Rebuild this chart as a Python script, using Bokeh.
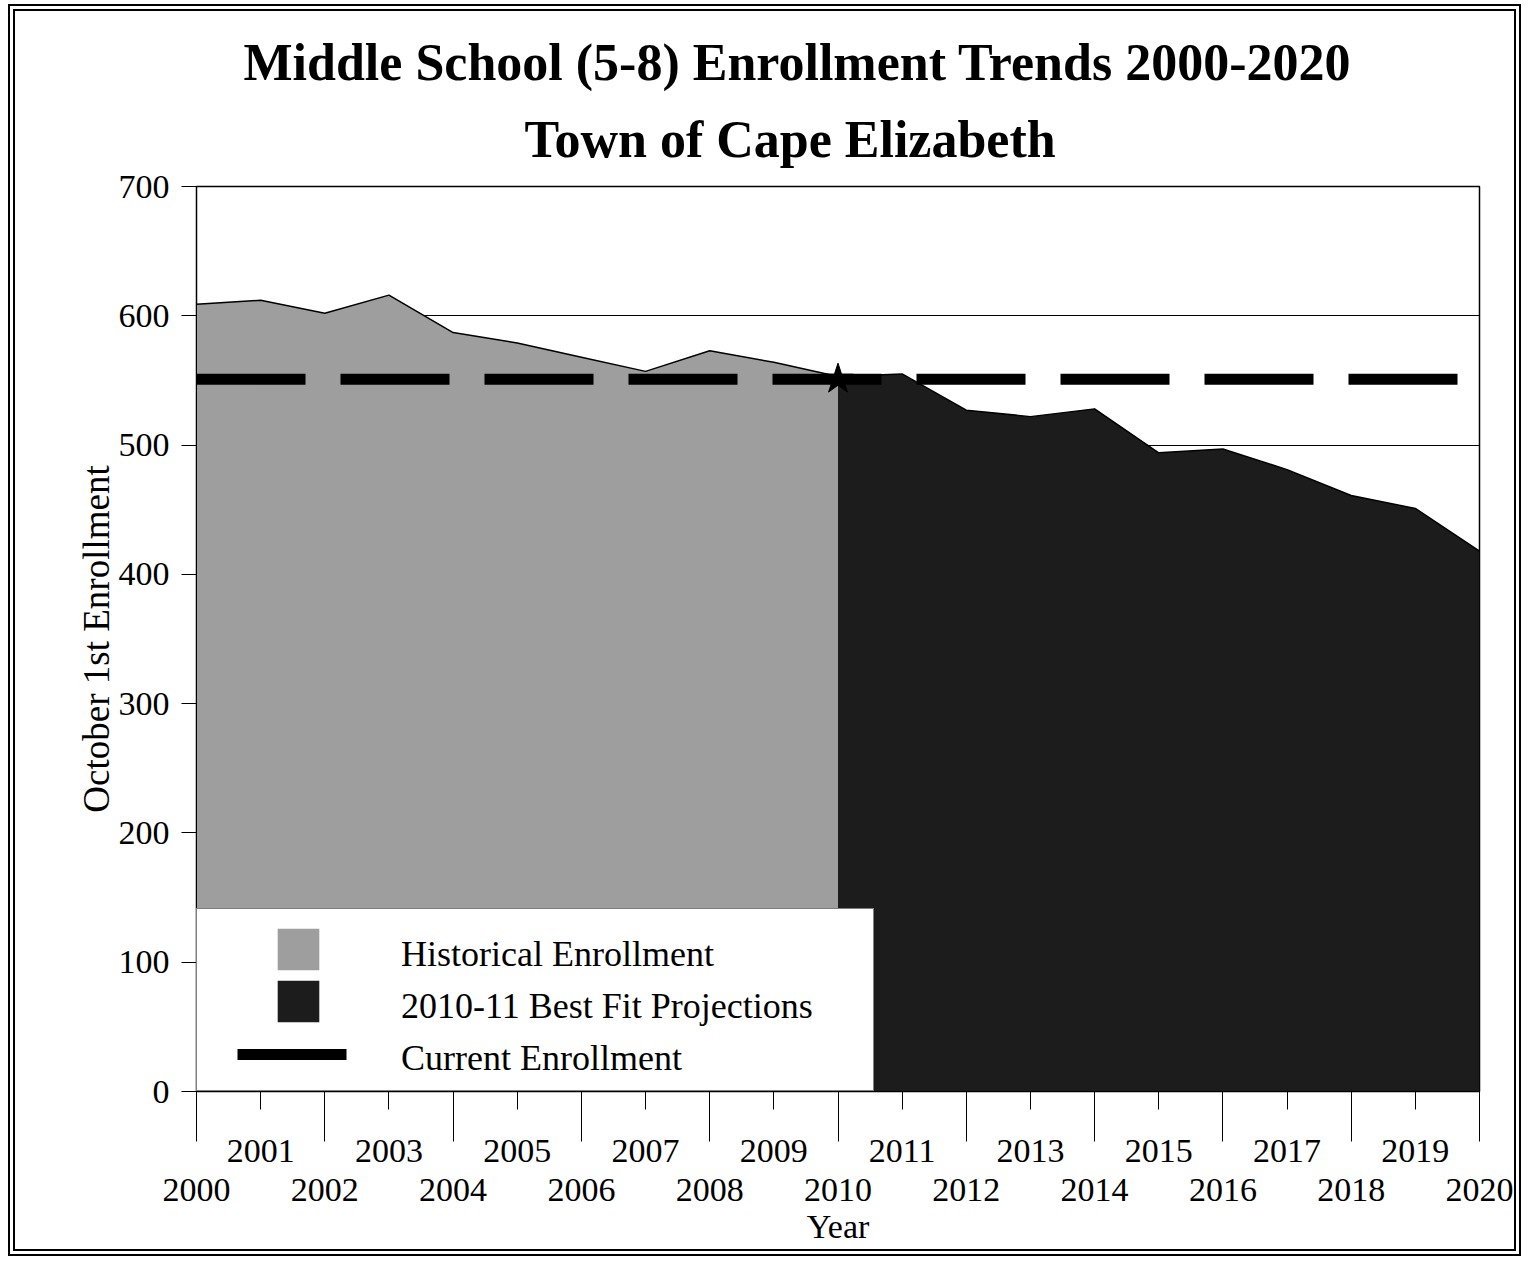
from bokeh.plotting import figure
from bokeh.models import Range1d, LinearAxis, FixedTicker, Legend, LegendItem, Title
from bokeh.embed import file_html
from bokeh.resources import INLINE

# ---------------- data ----------------
hist_years = [2000, 2001, 2002, 2003, 2004, 2005, 2006, 2007, 2008, 2009, 2010]
hist_values = [609, 612, 602, 616, 587, 579, 568, 557, 573, 564, 553]
proj_years = [2010, 2011, 2012, 2013, 2014, 2015, 2016, 2017, 2018, 2019, 2020]
proj_values = [553, 555, 527, 522, 528, 494, 497, 481, 461, 451, 418]
current_year = 2010
current_enrollment = 551
y_ticks = [0, 100, 200, 300, 400, 500, 600, 700]
odd_years = [2001, 2003, 2005, 2007, 2009, 2011, 2013, 2015, 2017, 2019]
even_years = [2000, 2002, 2004, 2006, 2008, 2010, 2012, 2014, 2016, 2018, 2020]
title_main = "Middle School (5-8) Enrollment Trends 2000-2020"
title_sub = "Town of Cape Elizabeth"
legend_labels = ["Historical Enrollment", "2010-11 Best Fit Projections", "Current Enrollment"]

SERIF = "Liberation Serif"
FS = "34px"
HIST_COLOR = "#9e9e9e"
PROJ_COLOR = "#1c1c1c"

p = figure(width=1513, height=1252,
           x_range=Range1d(even_years[0], even_years[-1]),
           y_range=Range1d(y_ticks[0], y_ticks[-1]),
           output_backend="svg", toolbar_location=None, title=None,
           min_border_left=181, min_border_right=49,
           min_border_top=175, min_border_bottom=172)
p.styles = {"margin": "4px 0px 0px 8px", "border": "7px double black"}
p.background_fill_color = "white"
p.border_fill_color = "white"
p.outline_line_color = "black"
p.outline_line_width = 1.5

# grid
p.xgrid.grid_line_color = None
p.ygrid.ticker = FixedTicker(ticks=y_ticks)
p.ygrid.grid_line_color = "black"
p.ygrid.grid_line_width = 1.2

# areas
r_hist = p.varea(x=hist_years, y1=[0] * len(hist_years), y2=hist_values,
                 fill_color=HIST_COLOR, fill_alpha=1)
p.line(hist_years, hist_values, line_color="black", line_width=1.5)
r_proj = p.varea(x=proj_years, y1=[0] * len(proj_years), y2=proj_values,
                 fill_color=PROJ_COLOR, fill_alpha=1)
p.line(proj_years, proj_values, line_color="black", line_width=1.5)

# current enrollment dashed line + star
r_cur = p.line(x=[hist_years[0], proj_years[-1]], y=[current_enrollment, current_enrollment],
               line_color="black", line_width=11, line_dash="109 35", line_cap="butt")
p.scatter(x=[current_year], y=[current_enrollment], marker="star", size=32,
          fill_color="black", line_color="black")

# y axis
ya = p.yaxis[0]
ya.ticker = FixedTicker(ticks=y_ticks)
ya.major_tick_out = 15
ya.major_tick_in = 0
ya.minor_tick_line_color = None
ya.major_label_standoff = 12
ya.major_label_text_font = SERIF
ya.major_label_text_font_size = FS
ya.major_label_text_color = "black"
ya.axis_line_color = "black"
ya.axis_label = "October 1st Enrollment"
ya.axis_label_text_font = SERIF
ya.axis_label_text_font_size = "37px"
ya.axis_label_text_font_style = "normal"
ya.axis_label_text_color = "black"
ya.axis_label_standoff = -1

# x axis (odd labels, short major ticks, long minor ticks at even years)
xa = p.xaxis[0]
xa.ticker = FixedTicker(ticks=odd_years, minor_ticks=even_years)
xa.major_tick_out = 18
xa.major_tick_in = 0
xa.minor_tick_out = 50
xa.minor_tick_in = 0
xa.minor_tick_line_color = "black"
xa.major_tick_line_color = "black"
xa.axis_line_color = "black"
xa.major_label_standoff = -2
xa.major_label_text_font = SERIF
xa.major_label_text_font_size = FS
xa.major_label_text_color = "black"

# second x axis row for even-year labels
xb = LinearAxis(ticker=FixedTicker(ticks=even_years, minor_ticks=[]),
                axis_line_color=None, major_tick_line_color=None, minor_tick_line_color=None,
                major_tick_out=0, major_tick_in=0, minor_tick_out=0, minor_tick_in=0,
                major_label_standoff=14,
                major_label_text_font=SERIF, major_label_text_font_size=FS,
                major_label_text_color="black",
                axis_label="Year", axis_label_text_font=SERIF, axis_label_text_font_size=FS,
                axis_label_text_font_style="normal", axis_label_text_color="black",
                axis_label_standoff=4)
p.add_layout(xb, "below")

# titles
p.add_layout(Title(text=title_sub, align="left", offset=328, text_font=SERIF,
                   text_font_size="52px", text_font_style="bold", text_color="black",
                   standoff=38), "above")
p.add_layout(Title(text=title_main, align="left", offset=47, text_font=SERIF,
                   text_font_size="52px", text_font_style="bold", text_color="black",
                   standoff=-3), "above")

# legends
dummy = p.line(x=[], y=[], line_alpha=0)
# white legend box
leg_box = Legend(items=[LegendItem(label=" ", renderers=[dummy])],
                 location=(0, 0), padding=0, margin=0, glyph_width=675, glyph_height=181,
                 label_standoff=0, label_width=1, label_height=1, label_text_font_size="1px",
                 border_line_color="black", border_line_width=1.5,
                 background_fill_color="white", background_fill_alpha=1)
# legend texts
leg_txt = Legend(items=[LegendItem(label=t, renderers=[dummy]) for t in legend_labels],
                 location=(204, 12), padding=0, margin=0, glyph_width=1, glyph_height=40,
                 label_standoff=0, spacing=10, label_height=40,
                 label_text_font=SERIF, label_text_font_size="36px", label_text_color="black",
                 border_line_color=None, background_fill_alpha=0)
# legend swatches
leg_sw = Legend(items=[LegendItem(label=" ", renderers=[r_hist]),
                       LegendItem(label=" ", renderers=[r_proj])],
                location=(76, 64), padding=0, margin=0, glyph_width=52, glyph_height=52,
                label_standoff=0, spacing=0, label_width=1, label_height=1,
                label_text_font_size="1px",
                border_line_color=None, background_fill_alpha=0)
leg_ln = Legend(items=[LegendItem(label=" ", renderers=[r_cur])],
                location=(41, 27), padding=0, margin=0, glyph_width=110, glyph_height=20,
                label_standoff=0, spacing=0, label_width=1, label_height=20,
                label_text_font_size="1px",
                border_line_color=None, background_fill_alpha=0)
for lg in (leg_box, leg_txt, leg_sw, leg_ln):
    p.add_layout(lg, "center")

open("out.html", "w").write(file_html(p, INLINE))
